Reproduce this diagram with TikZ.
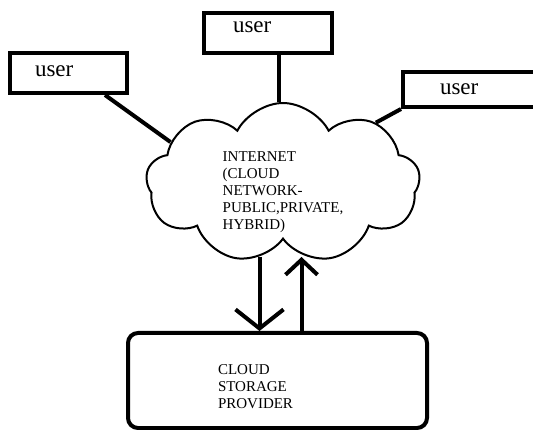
\documentclass[tikz,border=0pt]{standalone}
\usepackage{fontspec}
\setmainfont{Liberation Serif}
\usetikzlibrary{shapes.symbols,arrows.meta}
\begin{document}
\begin{tikzpicture}[x=1pt,y=-1pt,
  box/.style={draw,line width=4pt,align=left,inner ysep=0pt,font=\fontsize{23}{26}\selectfont},
  link/.style={line width=4pt},
  flow/.style={line width=4pt}]
\useasboundingbox (0,0) rectangle (533,430);
\clip (0,0) rectangle (533,430);
\node [cloud,draw,line width=2pt,cloud puffs=9,cloud puff arc=125,cloud ignores aspect,
  minimum width=274pt,minimum height=160pt] (c) at (283,183) {};
\node [align=left,font=\fontsize{15}{17}\selectfont] (ct) at ([yshift=-9pt]c.center)
  {INTERNET\\(CLOUD\\NETWORK-\\PUBLIC,PRIVATE,\\HYBRID)};
\coordinate (cb) at ([yshift=-74pt]c.center);
\node [box,text width=67pt,inner xsep=25pt,text height=24pt,text depth=16pt] (u1) at (68.5,73) {user};
\node [box,text width=70pt,inner xsep=29pt,text height=20pt,text depth=20pt] (u2) at (268,33) {user};
\node [box,text width=83pt,inner xsep=37pt,text height=23pt,text depth=12pt] (u3) at (481.5,89.5) {user};
\node [draw,line width=4pt,rounded corners=10pt,minimum width=299pt,minimum height=95pt,
  text width=119pt,align=left,font=\fontsize{15}{17}\selectfont] (s) at (277.5,380.5)
  {\rule{0pt}{23pt}CLOUD\\STORAGE\\PROVIDER};

\draw[link] ([xshift=-24pt]u1.south east) -- (c.160);
\draw[link] ([xshift=11pt]u2.south) -- ([xshift=11pt]u2.south |- c.north);
\draw[link] (u3.south west) -- (c.33);

\draw[flow,-{Straight Barb[length=19pt,width=48pt]}] ([xshift=-18pt]s.north |- cb) -- ([xshift=-18pt]s.north);
\draw[flow,-{Straight Barb[length=15pt,width=32pt]}] ([xshift=24pt]s.north) -- ([xshift=24pt]s.north |- cb);
\end{tikzpicture}
\end{document}
